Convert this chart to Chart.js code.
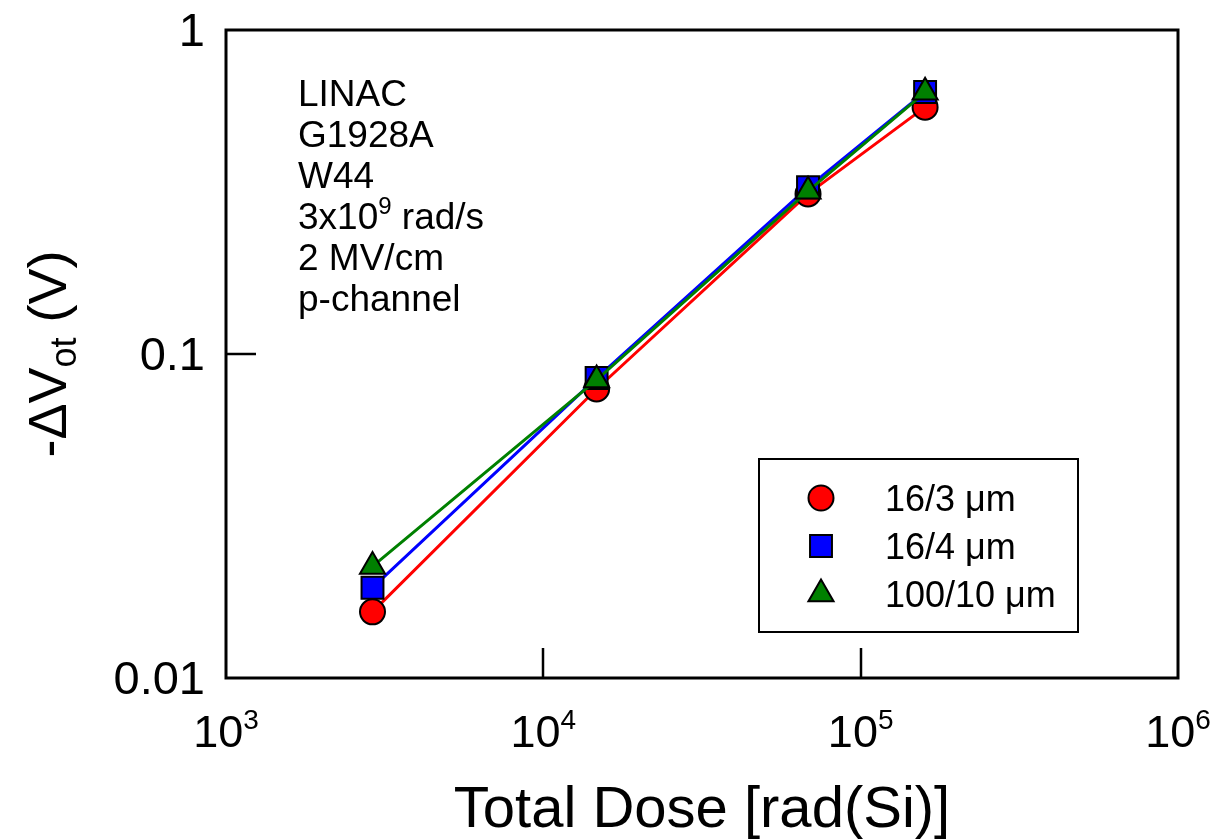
<!DOCTYPE html>
<html><head><meta charset="utf-8">
<script src="https://cdn.jsdelivr.net/npm/chart.js@4.4.1/dist/chart.umd.min.js"></script>
<style>html,body{margin:0;padding:0;background:#fff;}canvas{display:block;}</style>
</head><body>
<canvas id="c" width="1225" height="839"></canvas>
<script>
// ---- data ----
const doses = [2895, 14720, 68250, 159600];
const series16_3 = [0.0160, 0.0780, 0.312, 0.578];
const series16_4 = [0.0190, 0.0843, 0.327, 0.644];
const series100_10 = [0.0221, 0.0832, 0.318, 0.642];
const seriesNames = ['16/3 \u03bcm', '16/4 \u03bcm', '100/10 \u03bcm'];
const xTickValues = [1e3, 1e4, 1e5, 1e6];
const xTickExponents = ['3', '4', '5', '6'];
const yTickValues = [0.01, 0.1, 1];
const yTickLabels = ['0.01', '0.1', '1'];
const innerXTicks = [1e4, 1e5];
const innerYTicks = [0.1];
const annotationLines = [
  [{t:'LINAC'}],
  [{t:'G1928A'}],
  [{t:'W44'}],
  [{t:'3x10'},{t:'9',sup:true},{t:' rad/s'}],
  [{t:'2 MV/cm'}],
  [{t:'p-channel'}]
];
const xTitle = 'Total Dose [rad(Si)]';
const yTitleParts = [{t:'-\u0394V'},{t:'ot',sub:true},{t:' (V)'}];

const FONT = '"Liberation Sans", Arial, Helvetica, sans-serif';

function mk(label, vals, color, style, radius, order) {
  return {
    label: label,
    data: doses.map((x, i) => ({x: x, y: vals[i]})),
    showLine: true,
    borderColor: color,
    backgroundColor: color,
    borderWidth: 3,
    pointStyle: style,
    pointRadius: radius,
    pointHoverRadius: radius,
    pointBackgroundColor: color,
    pointBorderColor: '#000',
    pointBorderWidth: 2,
    order: order,
    clip: false
  };
}

const datasets = [
  mk(seriesNames[0], series16_3, '#ff0000', 'circle', 12.5, 2),
  mk(seriesNames[1], series16_4, '#0000ff', 'rect', 15.5, 1),
  mk(seriesNames[2], series100_10, '#008000', 'triangle', 14.5, 0)
];

function drawSegs(ctx, segs, x, y, opts) {
  const sx = opts.sx || 1;
  ctx.save();
  ctx.translate(x, y);
  ctx.scale(sx, 1);
  const widths = segs.map(s => {
    ctx.font = ((s.sup || s.sub) ? opts.subSize : opts.size) + 'px ' + FONT;
    return ctx.measureText(s.t).width;
  });
  const total = widths.reduce((a, b) => a + b, 0);
  let cx = 0;
  if (opts.align === 'center') cx = -total / 2;
  else if (opts.align === 'right') cx = -total;
  ctx.textBaseline = 'alphabetic';
  ctx.textAlign = 'left';
  ctx.fillStyle = '#000';
  segs.forEach((s, i) => {
    ctx.font = ((s.sup || s.sub) ? opts.subSize : opts.size) + 'px ' + FONT;
    let dy = 0;
    if (s.sup) dy = -opts.supRise;
    if (s.sub) dy = opts.subDrop;
    ctx.fillText(s.t, cx, dy);
    cx += widths[i];
  });
  ctx.restore();
}

const decor = {
  id: 'decor',
  afterDraw(chart) {
    const ctx = chart.ctx;
    const a = chart.chartArea;
    const xs = chart.scales.x, ys = chart.scales.y;
    ctx.save();
    // frame
    ctx.strokeStyle = '#000';
    ctx.lineWidth = 3;
    ctx.strokeRect(a.left, a.top, a.right - a.left, a.bottom - a.top);
    // inner ticks
    ctx.lineWidth = 2.5;
    innerXTicks.forEach(v => {
      const px = Math.round(xs.getPixelForValue(v));
      ctx.beginPath(); ctx.moveTo(px, a.bottom); ctx.lineTo(px, a.bottom - 30); ctx.stroke();
    });
    innerYTicks.forEach(v => {
      const py = Math.round(ys.getPixelForValue(v));
      ctx.beginPath(); ctx.moveTo(a.left, py); ctx.lineTo(a.left + 30, py); ctx.stroke();
    });
    // x tick labels (10 with superscript exponent)
    xTickValues.forEach((v, i) => {
      const px = xs.getPixelForValue(v);
      drawSegs(ctx, [{t:'10'}, {t:xTickExponents[i], sup:true}], px, 747,
        {size:45, subSize:28, supRise:18, align:'center'});
    });
    // y tick labels
    yTickValues.forEach((v, i) => {
      const py = ys.getPixelForValue(v);
      drawSegs(ctx, [{t:yTickLabels[i]}], 205, py + 16,
        {size:47, subSize:30, align:'right'});
    });
    // axis titles
    drawSegs(ctx, [{t:xTitle}], (a.left + a.right) / 2, 827,
      {size:58, subSize:36, align:'center'});
    ctx.save();
    ctx.translate(66, (a.top + a.bottom) / 2);
    ctx.rotate(-Math.PI / 2);
    drawSegs(ctx, yTitleParts, 0, 0,
      {size:54, subSize:36, subDrop:10, align:'center'});
    ctx.restore();
    // annotation
    annotationLines.forEach((segs, i) => {
      drawSegs(ctx, segs, 298, 106 + i * 41,
        {size:37, subSize:24, supRise:15, align:'left'});
    });
    // legend box
    ctx.strokeStyle = '#000';
    ctx.lineWidth = 2;
    ctx.strokeRect(759, 459, 319, 173);
    const ly = [498, 546, 594];
    chart.data.datasets.forEach((ds, i) => {
      ctx.save();
      ctx.fillStyle = ds.pointBackgroundColor;
      ctx.strokeStyle = ds.pointBorderColor;
      ctx.lineWidth = ds.pointBorderWidth;
      Chart.helpers.drawPoint(ctx, {pointStyle: ds.pointStyle, radius: ds.pointRadius,
        borderWidth: ds.pointBorderWidth, rotation: 0}, 821, ly[i]);
      ctx.restore();
      drawSegs(ctx, [{t: ds.label}], 885, ly[i] + 13, {size:36, subSize:24, align:'left'});
    });
    ctx.restore();
  }
};

new Chart(document.getElementById('c'), {
  type: 'scatter',
  data: {datasets: datasets},
  options: {
    responsive: false,
    animation: false,
    devicePixelRatio: 1,
    layout: {padding: {top: 30, right: 47, left: 0, bottom: 0}},
    plugins: {legend: {display: false}, tooltip: {enabled: false}},
    scales: {
      x: {
        type: 'logarithmic', min: 1e3, max: 1e6,
        grid: {display: false}, border: {display: false},
        ticks: {display: false},
        afterFit: s => { s.height = 161; }
      },
      y: {
        type: 'logarithmic', min: 0.01, max: 1,
        grid: {display: false}, border: {display: false},
        ticks: {display: false},
        afterFit: s => { s.width = 226; }
      }
    }
  },
  plugins: [decor]
});
</script>
</body></html>
